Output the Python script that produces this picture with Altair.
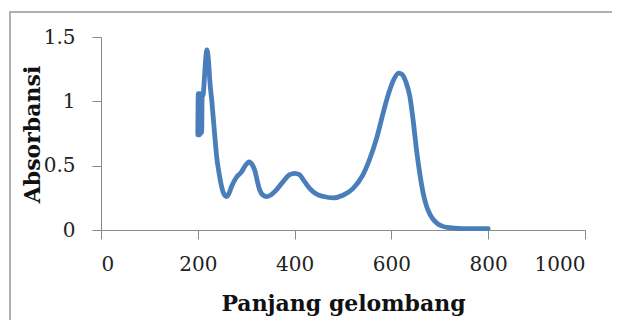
import altair as alt
import pandas as pd

wavelength = [200, 201, 202, 203, 204, 205, 206, 207, 208, 209, 211, 214, 217, 219, 222, 225,
              229, 234, 239, 244, 249, 254, 260, 265, 270, 280, 290, 298, 306, 312, 318,
              323, 328, 335, 342, 350, 362, 375, 390, 400, 410, 420, 432, 445, 460, 480,
              500, 520, 540, 555, 570, 583, 595, 605, 615, 622, 630, 638, 645, 652, 659,
              666, 673, 680, 687, 695, 705, 715, 730, 760, 800]
absorbance = [0.74, 1.06, 0.74, 1.06, 0.74, 1.06, 0.75, 1.05, 0.76, 1.04, 1.05, 1.2, 1.36, 1.40, 1.32, 1.15,
              1.0, 0.78, 0.57, 0.44, 0.34, 0.28, 0.26, 0.29, 0.34, 0.41, 0.45, 0.5, 0.53, 0.51, 0.46,
              0.38, 0.31, 0.27, 0.26, 0.27, 0.31, 0.37, 0.43, 0.44, 0.43, 0.38, 0.32, 0.28, 0.26, 0.25,
              0.27, 0.32, 0.42, 0.55, 0.72, 0.91, 1.07, 1.17, 1.22, 1.21, 1.15, 1.04, 0.85, 0.62, 0.43,
              0.28, 0.18, 0.12, 0.08, 0.05, 0.03, 0.02, 0.015, 0.01, 0.01]
x_ticks = [0, 200, 400, 600, 800, 1000]
y_ticks = [0, 0.5, 1, 1.5]

df = pd.DataFrame({"wl": wavelength, "abs": absorbance})

FONT = "DejaVu Serif"
AX = "#8a8a8a"

line = alt.Chart(df).mark_line(color="#4a7ebb", strokeWidth=4.8, interpolate="monotone",
                               strokeCap="round", strokeJoin="round").encode(
    x=alt.X("wl:Q", scale=alt.Scale(domain=[0, 1000], nice=False),
            axis=alt.Axis(values=x_ticks, title="Panjang gelombang", grid=False,
                          labelExpr="'' + datum.value",
                          domainColor=AX, tickColor=AX, tickSize=9,
                          labelFont=FONT, labelFontSize=20, labelColor="#222222",
                          labelPadding=15,
                          titleFont=FONT, titleFontSize=22, titleFontWeight="bold",
                          titleColor="#111111", titleY=80, titleBaseline="alphabetic")),
    y=alt.Y("abs:Q", scale=alt.Scale(domain=[0, 1.5], nice=False),
            axis=alt.Axis(values=y_ticks, title="Absorbansi", grid=False,
                          labelExpr="'' + datum.value",
                          domainColor=AX, tickColor=AX, tickSize=9,
                          labelFont=FONT, labelFontSize=20, labelColor="#222222",
                          labelPadding=17,
                          titleFont=FONT, titleFontSize=22, titleFontWeight="bold",
                          titleColor="#111111", titleAngle=-90, titleX=-69, titleY=97,
                          titleAlign="center", titleBaseline="middle")),
)

one = pd.DataFrame({"a": [0]})
frame_top = alt.Chart(one).mark_rule(color="#b0b0b0", strokeWidth=2).encode(
    x=alt.value(-91), x2=alt.value(700), y=alt.value(-25))
frame_left = alt.Chart(one).mark_rule(color="#b0b0b0", strokeWidth=2).encode(
    x=alt.value(-91), y=alt.value(-26), y2=alt.value(400))

chart = alt.layer(frame_top, frame_left, line).properties(
    width=484, height=193,
    autosize=alt.AutoSizeParams(type="none"),
    padding={"left": 93, "top": 29, "right": 27, "bottom": 90},
).configure_view(stroke=None)

chart.save("out.html", embed_options={"renderer": "svg", "actions": False})
